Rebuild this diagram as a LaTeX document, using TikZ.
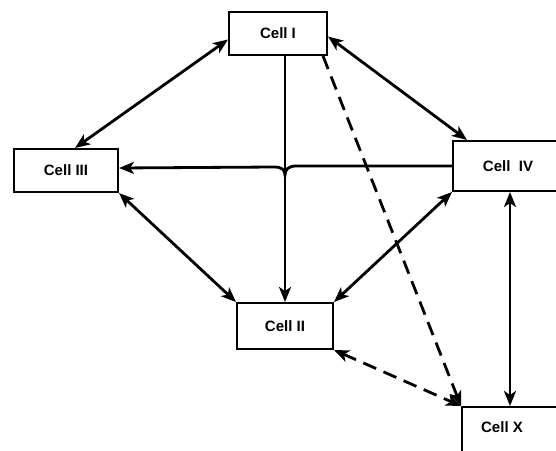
\documentclass[tikz,border=0pt]{standalone}
\usepackage{fontspec}
\setmainfont{Liberation Sans}
\usetikzlibrary{arrows.meta,calc}
\begin{document}
\begin{tikzpicture}[x=1pt,y=-1pt,
  cellbox/.style={draw,line width=2pt,inner sep=0pt,font=\bfseries\fontsize{15}{17}\selectfont},
  celltext/.style={inner sep=0pt,font=\bfseries\fontsize{15}{17}\selectfont},
  link/.style={line width=2.8pt,-{Stealth[length=15pt,width=12pt,inset=4pt]}},
  dlink/.style={line width=2.8pt,{Stealth[length=15pt,width=12pt,inset=4pt]}-{Stealth[length=15pt,width=12pt,inset=4pt]}},
  dashlink/.style={dash pattern=on 14pt off 8pt}]
\useasboundingbox (0,0) rectangle (556,450);
\clip (0,0) rectangle (556,450);
\fill[white] (0,0) rectangle (556,450);
% cells
\node[cellbox,minimum width=98pt,minimum height=43pt] (c1) at (278,33.5) {Cell I};
\node[cellbox,minimum width=104pt,minimum height=43pt] (c3) at (66,170.5) {Cell III};
\node[cellbox,minimum width=110pt,minimum height=50pt] (c4) at (508,166) {Cell\ \ IV};
\node[cellbox,minimum width=96pt,minimum height=46pt] (c2) at (285,326) {Cell II};
\node[cellbox,minimum width=150pt,minimum height=80pt,anchor=north west] (cX) at (461,406) {};
\node[celltext] (cXt) at (502,427) {Cell X};
% connectors
\draw[dlink] ([yshift=-6pt]c1.west) -- ([xshift=9pt]c3.north);
\draw[dlink] ([yshift=-3pt]c1.east) -- ([xshift=15pt]c4.north west);
\draw[link] (c1.south -| c2.north) -- (c2.north);
\coordinate (hop) at (c2.north |- c4.west);
\draw[link] (c4.west) -- ([xshift=11pt]hop)
  .. controls ([xshift=3pt]hop) and ([yshift=-4pt]hop) .. ([yshift=-9pt]hop)
  .. controls ([yshift=-4pt]hop) and ([xshift=-3pt,yshift=-1pt]hop) .. ([xshift=-11pt,yshift=-1pt]hop)
  -- ([yshift=2.5pt]c3.east);
\draw[dlink] (c3.south east) -- (c2.north west);
\draw[dlink] (c4.south west) -- (c2.north east);
\draw[link,dashlink] ([xshift=-5pt]c1.south east) -- (cX.north west);
\draw[dlink,dashlink] (c2.south east) -- (cX.north west);
\coordinate (c4b) at ([xshift=2pt]c4.south);
\draw[dlink] (c4b) -- (cX.north -| c4b);
\end{tikzpicture}
\end{document}
